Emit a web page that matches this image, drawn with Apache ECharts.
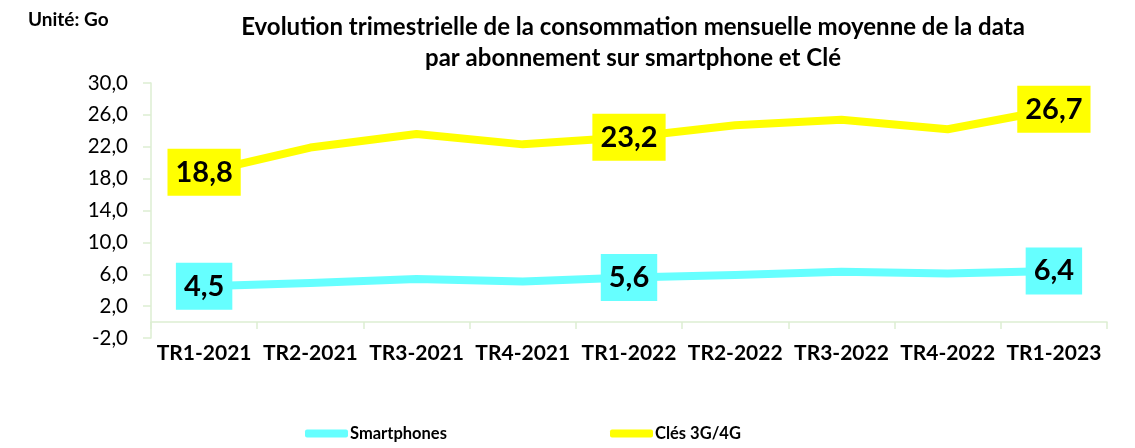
<!DOCTYPE html>
<html>
<head>
<meta charset="utf-8">
<script src="https://cdn.jsdelivr.net/npm/echarts@6/dist/echarts.min.js"></script>
<style>
  html, body { margin: 0; padding: 0; background: #fff; }
  #chart { width: 1135px; height: 448px; }
</style>
</head>
<body>
<div id="chart"></div>
<script>
// Quarters on the x axis
const quarters = ['TR1-2021', 'TR2-2021', 'TR3-2021', 'TR4-2021', 'TR1-2022', 'TR2-2022', 'TR3-2022', 'TR4-2022', 'TR1-2023'];
// Average monthly data use per subscription (Go)
const smartphones = [4.5, 4.9, 5.4, 5.1, 5.6, 5.9, 6.3, 6.1, 6.4];
const cles = [18.8, 21.9, 23.6, 22.3, 23.2, 24.7, 25.4, 24.2, 26.7];
// Quarters whose value is written on the line
const labelledQuarters = [0, 4, 8];
// Value axis range
const yMin = -2, yMax = 30, yStep = 4;

const FONT = 'Lato, "Open Sans", sans-serif';
const fmt = v => Number(v).toFixed(1).replace('.', ',');

function withLabels(values) {
  return values.map((v, i) => labelledQuarters.includes(i) ? { value: v, label: { show: true } } : v);
}

function lineSeries(name, values, color) {
  return {
    name: name,
    type: 'line',
    data: withLabels(values),
    symbol: 'circle',
    symbolSize: 1,
    showSymbol: true,
    itemStyle: { color: color },
    lineStyle: { color: color, width: 8, cap: 'round', join: 'round' },
    label: {
      show: false,
      position: 'inside',
      formatter: p => fmt(p.value),
      backgroundColor: color,
      color: '#000',
      fontFamily: FONT,
      fontWeight: 'bold',
      fontSize: 29,
      padding: [9, 8, 9, 8]
    },
    emphasis: { disabled: true },
    animation: false
  };
}

const legendText = { fontFamily: FONT, fontWeight: 'bold', fontSize: 16.5, color: '#000', padding: [0, 0, 0, -3] };

const chart = echarts.init(document.getElementById('chart'));
chart.setOption({
  animation: false,
  title: [
    {
      text: 'Evolution trimestrielle de la consommation mensuelle moyenne de la data\npar abonnement sur smartphone et Clé',
      left: 628,
      textAlign: 'center',
      top: 7,
      textStyle: { fontFamily: FONT, fontWeight: 'bold', fontSize: 24, lineHeight: 31, color: '#000' }
    },
    {
      text: 'Unité: Go',
      left: 23,
      top: 5,
      textStyle: { fontFamily: FONT, fontWeight: 'bold', fontSize: 19, color: '#000' }
    }
  ],
  legend: [
    {
      data: ['Smartphones'],
      left: 300,
      top: 420,
      icon: 'roundRect',
      itemWidth: 43,
      itemHeight: 8,
      textStyle: legendText
    },
    {
      data: ['Clés 3G/4G'],
      left: 605,
      top: 420,
      icon: 'roundRect',
      itemWidth: 43,
      itemHeight: 8,
      textStyle: legendText
    }
  ],
  grid: { left: 151, right: 28, top: 83, bottom: 110 },
  xAxis: {
    type: 'category',
    data: quarters,
    boundaryGap: true,
    axisLine: { show: true, onZero: true, lineStyle: { color: '#DDEED2', width: 1.5 } },
    axisTick: { show: true, length: 7, interval: 0, lineStyle: { color: '#DDEED2', width: 1.5 } },
    axisLabel: { interval: 0, margin: 5, fontFamily: FONT, fontWeight: 'bold', fontSize: 21, color: '#000' },
    splitLine: { show: false }
  },
  yAxis: {
    type: 'value',
    min: yMin,
    max: yMax,
    interval: yStep,
    axisLine: { show: true, lineStyle: { color: '#DDEED2', width: 1.5 } },
    axisTick: { show: true, length: 8, lineStyle: { color: '#DDEED2', width: 1.5 } },
    axisLabel: { formatter: fmt, margin: 23, fontFamily: FONT, fontSize: 20.5, color: '#000' },
    splitLine: { show: false }
  },
  series: [
    lineSeries('Smartphones', smartphones, '#66FFFF'),
    lineSeries('Clés 3G/4G', cles, '#FFFF00')
  ]
});
</script>
</body>
</html>
